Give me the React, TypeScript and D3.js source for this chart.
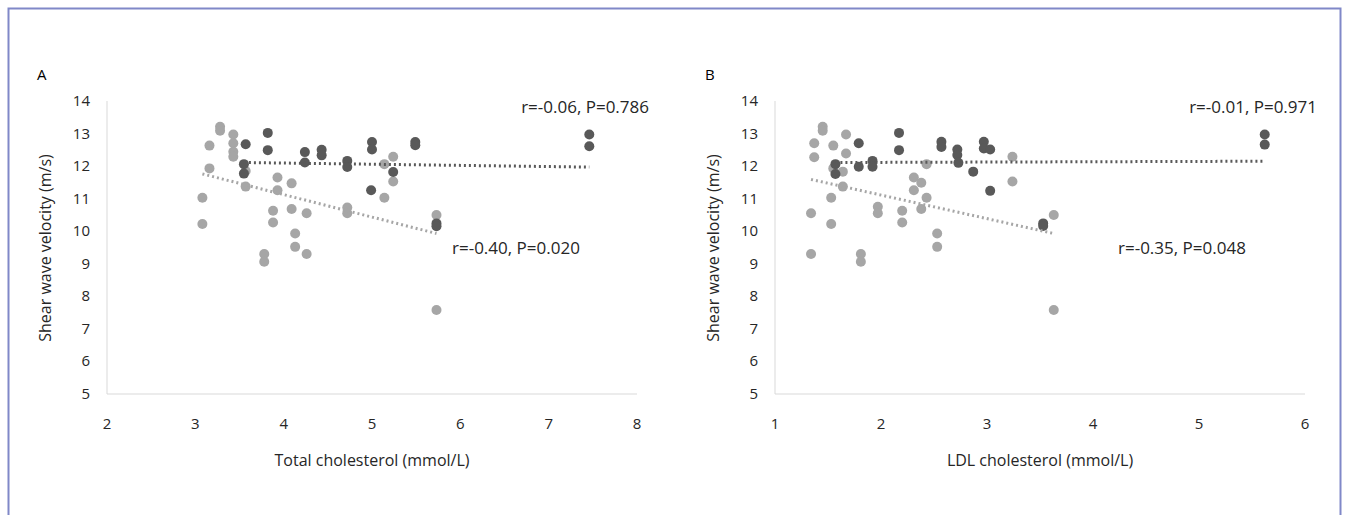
import React from 'react';
import * as d3 from 'd3';

// Panel A: total cholesterol
const aDarkX = [3.57, 3.82, 3.82, 3.55, 3.55, 4.24, 4.24, 4.43, 4.43, 4.72, 4.72, 5.0, 5.0, 4.99, 5.24, 5.49, 5.49, 5.73, 5.73, 7.46, 7.46];
const aDarkY = [12.67, 13.02, 12.49, 12.06, 11.77, 12.43, 12.11, 12.5, 12.33, 12.16, 11.97, 12.74, 12.51, 11.26, 11.82, 12.74, 12.64, 10.24, 10.15, 12.97, 12.61];
const aLightX = [3.28, 3.28, 3.43, 3.43, 3.43, 3.43, 3.16, 3.16, 3.08, 3.08, 3.57, 3.57, 3.93, 3.93, 4.09, 3.88, 3.88, 4.09, 4.26, 4.13, 4.13, 4.26, 3.78, 3.78, 4.72, 4.72, 5.14, 5.24, 5.24, 5.14, 5.73, 5.73];
const aLightY = [13.21, 13.09, 12.97, 12.7, 12.44, 12.29, 12.63, 11.93, 11.03, 10.22, 11.85, 11.37, 11.65, 11.26, 11.47, 10.63, 10.27, 10.68, 10.55, 9.93, 9.52, 9.3, 9.3, 9.06, 10.73, 10.55, 12.06, 12.29, 11.53, 11.03, 10.5, 7.58];
const aDarkTrend = [[3.55, 12.11], [7.46, 11.97]];
const aLightTrend = [[3.08, 11.76], [5.73, 9.93]];

// Panel B: LDL cholesterol
const bDarkX = [1.79, 1.79, 1.57, 1.57, 1.92, 1.92, 2.17, 2.17, 2.57, 2.57, 2.72, 2.72, 2.73, 2.97, 2.97, 3.03, 2.87, 3.03, 3.53, 3.53, 5.62, 5.62];
const bDarkY = [12.7, 11.98, 12.06, 11.76, 12.16, 11.98, 13.02, 12.49, 12.75, 12.59, 12.51, 12.34, 12.1, 12.75, 12.54, 12.51, 11.83, 11.24, 10.24, 10.16, 12.97, 12.66];
const bLightX = [1.45, 1.45, 1.37, 1.37, 1.55, 1.67, 1.67, 1.55, 1.64, 1.64, 1.53, 1.34, 1.53, 1.34, 1.81, 1.81, 1.97, 1.97, 2.2, 2.2, 2.31, 2.38, 2.31, 2.43, 2.43, 2.38, 2.53, 2.53, 3.24, 3.24, 3.63, 3.63];
const bLightY = [13.21, 13.09, 12.7, 12.27, 12.63, 12.97, 12.39, 11.93, 11.83, 11.37, 11.03, 10.55, 10.22, 9.3, 9.3, 9.06, 10.75, 10.55, 10.63, 10.27, 11.65, 11.49, 11.26, 12.06, 11.03, 10.68, 9.93, 9.52, 12.29, 11.53, 10.5, 7.58];
const bDarkTrend = [[1.57, 12.11], [5.62, 12.15]];
const bLightTrend = [[1.34, 11.59], [3.63, 9.93]];

const yTicks = [5, 6, 7, 8, 9, 10, 11, 12, 13, 14];
const aXTicks = [2, 3, 4, 5, 6, 7, 8];
const bXTicks = [1, 2, 3, 4, 5, 6];

const DARK = '#595959';
const LIGHT = '#a6a6a6';
const FONT = '"Open Sans", sans-serif';

interface PanelProps {
  letter: string;
  left: number;
  xDomain: [number, number];
  xTicks: number[];
  xTitle: string;
  darkX: number[]; darkY: number[];
  lightX: number[]; lightY: number[];
  darkTrend: number[][]; lightTrend: number[][];
  topLabel: string; bottomLabel: string; bottomLabelX: number;
}

const Panel: React.FC<PanelProps> = (p) => {
  const x = d3.scaleLinear().domain(p.xDomain).range([p.left, p.left + 530]);
  const y = d3.scaleLinear().domain([5, 14]).range([394, 101]);
  const line = d3.line<number[]>().x(d => x(d[0])).y(d => y(d[1]));
  return (
    <g fontFamily={FONT} fill="#262626">
      <text x={p.left - 70} y={80} fontSize={15} fill="#000">{p.letter}</text>
      <text transform={`translate(${p.left - 56},${248}) rotate(-90)`} textAnchor="middle" fontSize={16}>Shear wave velocity (m/s)</text>
      <line x1={p.left} x2={p.left} y1={101} y2={394} stroke="#d9d9d9" />
      <line x1={p.left} x2={p.left + 530} y1={394} y2={394} stroke="#d9d9d9" />
      {yTicks.map(t => (
        <text key={t} x={p.left - 17} y={y(t) + 5} textAnchor="end" fontSize={15}>{t}</text>
      ))}
      {p.xTicks.map(t => (
        <text key={t} x={x(t)} y={429} textAnchor="middle" fontSize={15}>{t}</text>
      ))}
      <text x={p.left + 265} y={466} textAnchor="middle" fontSize={16}>{p.xTitle}</text>
      {p.lightX.map((v, i) => <circle key={'l' + i} cx={x(v)} cy={y(p.lightY[i])} r={5} fill={LIGHT} />)}
      {p.darkX.map((v, i) => <circle key={'d' + i} cx={x(v)} cy={y(p.darkY[i])} r={5} fill={DARK} />)}
      <path d={line(p.darkTrend) || ''} stroke={DARK} strokeWidth={3} strokeDasharray="2 3" fill="none" />
      <path d={line(p.lightTrend) || ''} stroke={LIGHT} strokeWidth={3} strokeDasharray="2 3" fill="none" />
      <text x={p.left + 542} y={113} textAnchor="end" fontSize={17}>{p.topLabel}</text>
      <text x={p.bottomLabelX} y={254} fontSize={17}>{p.bottomLabel}</text>
    </g>
  );
};

export default function App() {
  return (
    <svg width={1349} height={515} style={{ position: 'absolute', left: 0, top: 0 }}>
      <rect x={0} y={0} width={1349} height={515} fill="#fff" />
      <rect x={8.5} y={8.5} width={1332} height={520} fill="none" stroke="#8088c8" strokeWidth={2} />
      <Panel letter="A" left={107} xDomain={[2, 8]} xTicks={aXTicks} xTitle="Total cholesterol (mmol/L)"
        darkX={aDarkX} darkY={aDarkY} lightX={aLightX} lightY={aLightY}
        darkTrend={aDarkTrend} lightTrend={aLightTrend}
        topLabel="r=-0.06, P=0.786" bottomLabel="r=-0.40, P=0.020" bottomLabelX={452} />
      <Panel letter="B" left={775} xDomain={[1, 6]} xTicks={bXTicks} xTitle="LDL cholesterol (mmol/L)"
        darkX={bDarkX} darkY={bDarkY} lightX={bLightX} lightY={bLightY}
        darkTrend={bDarkTrend} lightTrend={bLightTrend}
        topLabel="r=-0.01, P=0.971" bottomLabel="r=-0.35, P=0.048" bottomLabelX={1118} />
    </svg>
  );
}
